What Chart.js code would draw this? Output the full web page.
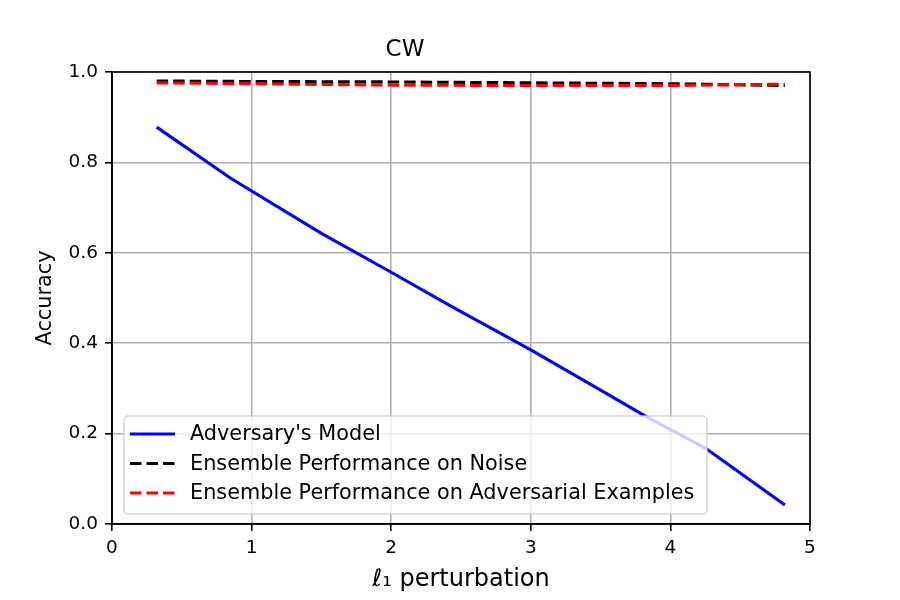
<!DOCTYPE html>
<html lang="en">
<head>
    <meta charset="UTF-8">
    <title>CW</title>
    <script src="https://cdn.jsdelivr.net/npm/chart.js"></script>
    <style>
        html, body { margin: 0; padding: 0; background: #fff; }
        .chart-container { position: relative; width: 900px; height: 600px; }
    </style>
</head>
<body>
    <div class="chart-container">
        <canvas id="cwChart"></canvas>
    </div>

    <script>
        // Data
        const advX = [0.32, 0.85, 1.5, 2.0, 2.45, 3.0, 3.5, 3.83, 4.25, 4.82];
        const advModel = [0.878, 0.765, 0.643, 0.557, 0.478, 0.385, 0.296, 0.237, 0.168, 0.042];

        const ensX = [0.32, 1.0, 2.0, 3.0, 4.0, 4.82];
        const ensNoise = [0.980, 0.979, 0.978, 0.976, 0.974, 0.970];
        const ensAdv = [0.976, 0.974, 0.971, 0.970, 0.970, 0.973];

        const xTicks = [0, 1, 2, 3, 4, 5];
        const yTicks = [0.0, 0.2, 0.4, 0.6, 0.8, 1.0];

        const FONT = 'DejaVu Sans';

        function toPoints(xs, ys) {
            return xs.map((x, i) => ({ x: x, y: ys[i] }));
        }

        // full black box around the plot area
        const framePlugin = {
            id: 'frame',
            afterDraw(chart) {
                const { ctx, chartArea: a } = chart;
                ctx.save();
                ctx.strokeStyle = '#000';
                ctx.lineWidth = 1.6;
                ctx.strokeRect(a.left, a.top, a.right - a.left, a.bottom - a.top);
                ctx.restore();
            }
        };

        // matplotlib-style legend inside the axes, lower left
        const innerLegend = {
            id: 'innerLegend',
            afterDraw(chart) {
                const { ctx, chartArea: a } = chart;
                const x = a.left + 12, w = 583, h = 98;
                const y = a.bottom - 10 - h;
                ctx.save();
                ctx.beginPath();
                ctx.roundRect(x, y, w, h, 4);
                ctx.fillStyle = 'rgba(255,255,255,0.8)';
                ctx.fill();
                ctx.strokeStyle = 'rgba(204,204,204,0.8)';
                ctx.lineWidth = 1.5;
                ctx.stroke();

                ctx.font = '20.8px "' + FONT + '"';
                ctx.textBaseline = 'middle';
                ctx.fillStyle = '#000';
                chart.data.datasets.forEach((ds, i) => {
                    const rowY = y + 18 + i * 29.5;
                    ctx.beginPath();
                    ctx.strokeStyle = ds.borderColor;
                    ctx.lineWidth = ds.borderWidth;
                    ctx.setLineDash(ds.borderDash || []);
                    ctx.moveTo(x + 6, rowY);
                    ctx.lineTo(x + 51, rowY);
                    ctx.stroke();
                    ctx.setLineDash([]);
                    ctx.fillText(ds.label, x + 66, rowY + 1);
                });
                ctx.restore();
            }
        };

        const tickFont = { family: FONT, size: 18.5 };
        const gridOpts = {
            color: '#b0b0b0',
            lineWidth: 1.6,
            tickColor: '#000',
            tickLength: 7,
            tickWidth: 1.6
        };

        new Chart(document.getElementById('cwChart'), {
            type: 'line',
            data: {
                datasets: [
                    {
                        label: "Adversary's Model",
                        data: toPoints(advX, advModel),
                        borderColor: '#0000ff',
                        borderWidth: 3.1,
                        pointRadius: 0,
                        tension: 0,
                        order: 3
                    },
                    {
                        label: 'Ensemble Performance on Noise',
                        data: toPoints(ensX, ensNoise),
                        borderColor: '#000000',
                        borderWidth: 3.1,
                        borderDash: [11.5, 5],
                        pointRadius: 0,
                        tension: 0,
                        order: 2
                    },
                    {
                        label: 'Ensemble Performance on Adversarial Examples',
                        data: toPoints(ensX, ensAdv),
                        borderColor: '#ff0000',
                        borderWidth: 3.1,
                        borderDash: [11.5, 5],
                        pointRadius: 0,
                        tension: 0,
                        order: 1
                    }
                ]
            },
            options: {
                responsive: true,
                maintainAspectRatio: false,
                animation: false,
                layout: { padding: { left: 0, right: 90, top: 0, bottom: 0 } },
                plugins: {
                    legend: { display: false },
                    tooltip: { enabled: false },
                    title: {
                        display: true,
                        text: 'CW',
                        color: '#000',
                        font: { family: FONT, size: 23, weight: 'normal' },
                        padding: { top: 36, bottom: 8.4 }
                    }
                },
                scales: {
                    x: {
                        type: 'linear',
                        min: 0,
                        max: 5,
                        afterBuildTicks(scale) {
                            scale.ticks = xTicks.map(v => ({ value: v }));
                        },
                        afterFit(scale) { scale.height = 76; },
                        ticks: {
                            color: '#000',
                            font: tickFont,
                            padding: 6,
                            maxRotation: 0,
                            callback: v => String(v)
                        },
                        grid: gridOpts,
                        border: { color: '#000', width: 1.6 },
                        title: {
                            display: true,
                            text: 'ℓ₁ perturbation',
                            color: '#000',
                            font: { family: FONT, size: 24 },
                            padding: { top: 0, bottom: 5.6 }
                        }
                    },
                    y: {
                        min: 0,
                        max: 1,
                        afterBuildTicks(scale) {
                            scale.ticks = yTicks.map(v => ({ value: v }));
                        },
                        afterFit(scale) { scale.width = 112; },
                        ticks: {
                            color: '#000',
                            font: tickFont,
                            padding: 7,
                            callback: v => Number(v).toFixed(1)
                        },
                        grid: gridOpts,
                        border: { color: '#000', width: 1.6 },
                        title: {
                            display: true,
                            text: 'Accuracy',
                            color: '#000',
                            font: { family: FONT, size: 20.8 },
                            padding: { top: 33.5, bottom: 0 }
                        }
                    }
                }
            },
            plugins: [framePlugin, innerLegend]
        });
    </script>
</body>
</html>
